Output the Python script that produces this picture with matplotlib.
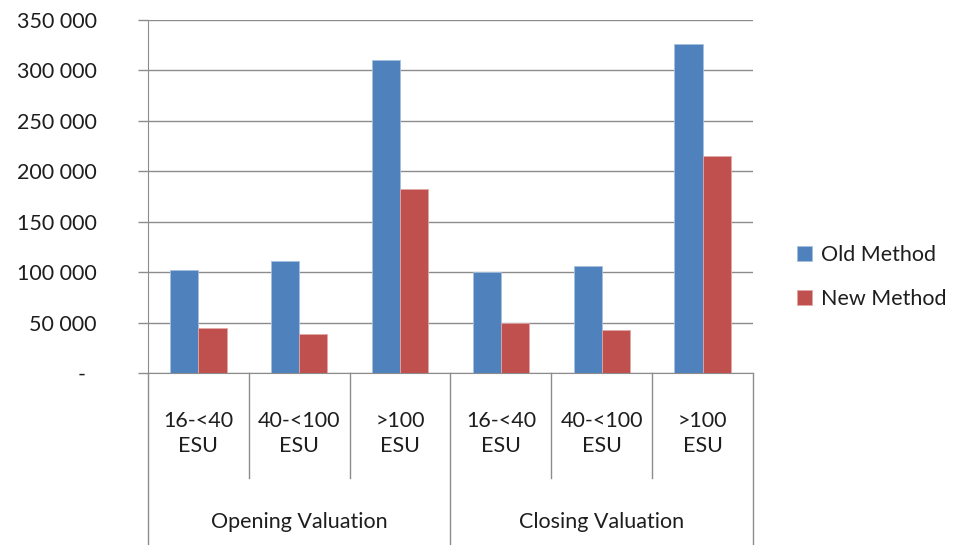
import matplotlib
matplotlib.use("Agg")
import matplotlib.pyplot as plt
import numpy as np

# ---------------------------------------------------------------------
# Data
# ---------------------------------------------------------------------
groups = ["Opening Valuation", "Closing Valuation"]
sizes = ["16-<40\nESU", "40-<100\nESU", ">100\nESU"]
old_method = [102000, 111000, 310000, 100000, 106000, 326000]
new_method = [45000, 39000, 182000, 50000, 43000, 215000]
y_ticks = [0, 50000, 100000, 150000, 200000, 250000, 300000, 350000]
y_tick_labels = ["-  ", "50 000", "100 000", "150 000", "200 000",
                 "250 000", "300 000", "350 000"]

BLUE = "#4F81BD"
RED = "#C0504D"
GRID = "#8C8C8C"
TXT = "#1E1E1E"
FS = 15.5

plt.rcParams["font.family"] = ["Lato", "DejaVu Sans"]

fig = plt.figure(figsize=(9.7, 5.45), dpi=100)
ax = fig.add_axes([148 / 970, 1 - 373 / 545, (753 - 148) / 970, 353 / 545])

x = np.arange(len(old_method))
w = 0.28
ax.bar(x - w / 2, old_method, w, color=BLUE, edgecolor="#A7BFDE",
       linewidth=0.6, label="Old Method", zorder=3)
ax.bar(x + w / 2, new_method, w, color=RED, edgecolor="#DFA7A6",
       linewidth=0.6, label="New Method", zorder=3)

ax.set_xlim(-0.5, len(x) - 0.5)
ax.set_ylim(0, 350000)
ax.set_yticks(y_ticks)
ax.set_yticklabels(y_tick_labels, fontsize=FS, color=TXT)
ax.tick_params(axis="y", length=7, width=1, color=GRID, pad=30)
ax.set_xticks([])
ax.grid(axis="y", color=GRID, linewidth=1, zorder=0)
ax.set_axisbelow(True)

for s in ("top", "right"):
    ax.spines[s].set_visible(False)
ax.spines["left"].set_color(GRID)
ax.spines["bottom"].set_color(GRID)
ax.spines["left"].set_zorder(4)

# multi-level category axis
tr = ax.get_xaxis_transform()
n_sub = len(sizes)
for i in range(len(x) + 1):
    b = i - 0.5
    bottom = -0.49 if i % n_sub == 0 else -0.2975
    ax.plot([b, b], [0, bottom], transform=tr, color=GRID, lw=1,
            clip_on=False)

for i in range(len(x)):
    ax.text(i, -0.172, sizes[i % n_sub], transform=tr, ha="center",
            va="center", fontsize=FS, linespacing=1.3, color=TXT)

for g, name in enumerate(groups):
    cx = g * n_sub + (n_sub - 1) / 2
    ax.text(cx, -0.422, name, transform=tr, ha="center", va="center",
            fontsize=FS, color=TXT)

leg = ax.legend(loc="center left", bbox_to_anchor=(778 / 970, 1 - 277 / 545),
                bbox_transform=fig.transFigure, frameon=False, fontsize=FS,
                handlelength=0.7, handleheight=0.7, handletextpad=0.4,
                labelspacing=1.15)
for t in leg.get_texts():
    t.set_color(TXT)

fig.savefig("out.png", dpi=100, facecolor="white")
